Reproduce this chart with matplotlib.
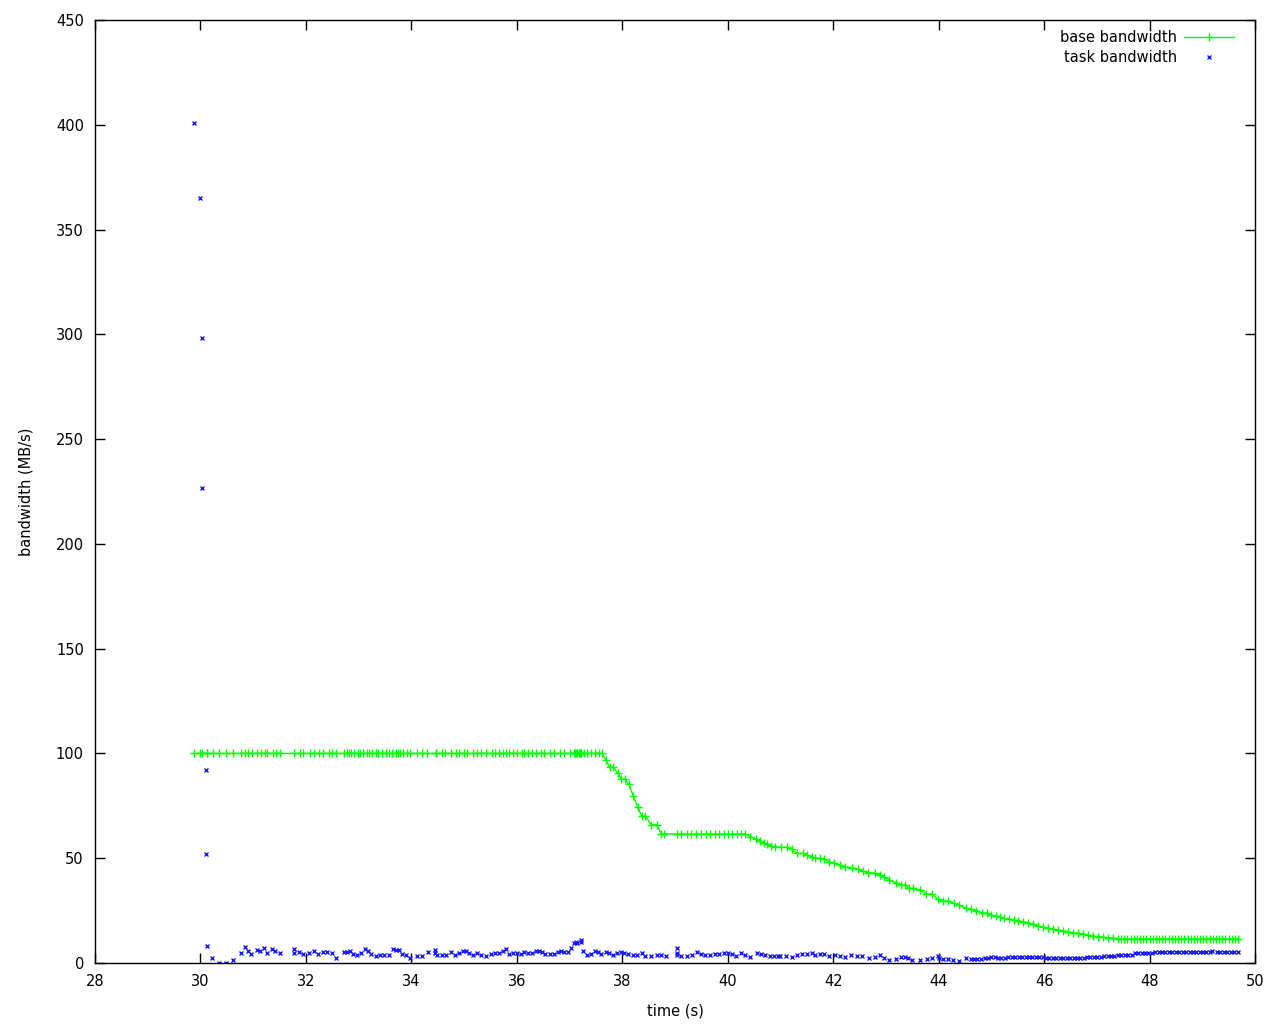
import matplotlib
matplotlib.use("Agg")
import matplotlib.pyplot as plt

plt.rcParams['font.family'] = ['DejaVu Sans']

# ---------------- data ----------------
base_t = [29.88, 30.00, 30.02, 30.12, 30.13, 30.23, 30.36, 30.49, 30.62, 30.76, 30.85, 30.91,
          30.97, 31.08, 31.14, 31.23, 31.27, 31.38, 31.44, 31.50, 31.78, 31.88, 31.95, 32.07,
          32.16, 32.24, 32.33, 32.43, 32.50, 32.58, 32.73, 32.77, 32.81, 32.86, 32.92, 32.98,
          33.03, 33.09, 33.15, 33.20, 33.26, 33.32, 33.37, 33.45, 33.51, 33.58, 33.64, 33.70,
          33.75, 33.79, 33.85, 33.91, 33.98, 34.11, 34.21, 34.30, 34.46, 34.47, 34.59, 34.64,
          34.76, 34.85, 34.91, 34.99, 35.06, 35.16, 35.25, 35.33, 35.42, 35.52, 35.59, 35.67,
          35.73, 35.80, 35.86, 35.93, 36.01, 36.09, 36.14, 36.22, 36.29, 36.37, 36.45, 36.52,
          36.62, 36.71, 36.81, 36.90, 37.00, 37.09, 37.11, 37.13, 37.15, 37.17, 37.19, 37.20,
          37.22, 37.28, 37.34, 37.41, 37.48, 37.55, 37.61,
          37.69, 37.76, 37.83, 37.91, 37.98, 38.05, 38.12, 38.21, 38.29, 38.37, 38.44, 38.55,
          38.65, 38.74, 38.80,
          39.04, 39.12, 39.23, 39.31, 39.40, 39.50, 39.58, 39.67, 39.76, 39.84, 39.93, 40.01,
          40.09, 40.17, 40.25, 40.33,
          40.43, 40.54, 40.61, 40.68, 40.75, 40.83, 40.90, 41.01, 41.12, 41.21, 41.31, 41.42,
          41.50, 41.59, 41.66, 41.75, 41.83, 41.92, 42.02, 42.12, 42.22, 42.35, 42.47, 42.56,
          42.66, 42.79, 42.89, 42.96, 43.06,
          43.19, 43.29, 43.36, 43.44, 43.51, 43.65, 43.76, 43.87, 43.99, 44.08, 44.18, 44.29,
          44.39, 44.52, 44.61, 44.71, 44.82, 44.92, 44.99, 45.09, 45.16, 45.24, 45.33, 45.43,
          45.51, 45.60, 45.70, 45.79, 45.89, 45.98, 46.07, 46.17, 46.26, 46.36, 46.45, 46.55,
          46.64, 46.74, 46.83, 46.93, 47.02, 47.12, 47.21, 47.31, 47.40,
          47.46, 47.52, 47.58, 47.64, 47.70, 47.76, 47.82, 47.88, 47.94, 48.00, 48.06, 48.12,
          48.18, 48.24, 48.30, 48.36, 48.42, 48.48, 48.54, 48.60, 48.66, 48.72, 48.78, 48.84,
          48.90, 48.96, 49.02, 49.08, 49.14, 49.20, 49.26, 49.32, 49.38, 49.44, 49.50, 49.56,
          49.62, 49.67]
base_bw = [100.0] * 103 + \
          [96.9, 93.5, 93.5, 90.7, 87.8, 87.8, 85.4, 79.7, 74.4, 70.1, 70.1, 65.9,
           65.9, 61.6, 61.6] + \
          [61.5] * 16 + \
          [60.3, 59.2, 58.4, 57.4, 56.6, 55.8, 55.5, 55.2, 55.2, 54.3, 52.3, 52.3,
           51.5, 50.7, 49.9, 49.9, 49.5, 48.4, 47.6, 46.8, 46.0, 45.5, 44.7, 43.9,
           43.1, 42.8, 42.0, 41.2, 39.6,
           38.3, 37.2, 37.2, 35.6, 35.6, 34.8, 32.9, 32.9, 30.5, 29.6, 29.6, 28.5,
           27.7, 26.1, 25.6, 25.0, 24.0, 23.7, 22.9, 22.4, 22.1, 21.3, 20.9, 20.5,
           20.2, 19.7, 19.2, 18.6, 17.7, 17.0, 16.6, 16.1, 15.7, 15.4, 14.9, 14.5,
           14.2, 13.8, 13.4, 12.9, 12.6, 12.3, 12.1, 11.9, 11.6] + \
          [11.5] * 38

task_t = [29.88, 30.00, 30.02, 30.02, 30.11, 30.11,
          30.13, 30.22, 30.36, 30.49, 30.62, 30.76, 30.85, 30.91, 30.96, 31.08, 31.13, 31.21,
          31.27, 31.36, 31.42, 31.50, 31.78, 31.78, 31.87, 31.95, 32.06, 32.16, 32.23, 32.33,
          32.40, 32.50, 32.58, 32.73, 32.78, 32.84, 32.90, 32.97, 33.05, 33.12, 33.18, 33.24,
          33.32, 33.41, 33.49, 33.58, 33.66, 33.71, 33.77, 33.83, 33.90, 33.98, 34.11, 34.20,
          34.32, 34.45, 34.45, 34.49, 34.58, 34.66, 34.76, 34.83, 34.91, 34.98, 35.04, 35.10,
          35.17, 35.25, 35.33, 35.42, 35.51, 35.59, 35.66, 35.74, 35.80, 35.86, 35.93, 36.00,
          36.07, 36.14, 36.22, 36.29, 36.37, 36.42, 36.48, 36.54, 36.63, 36.71, 36.79, 36.84,
          36.90, 36.98, 37.03, 37.09, 37.13, 37.15, 37.21, 37.22, 37.26,
          37.34, 37.41, 37.49, 37.54, 37.60, 37.70, 37.75, 37.83, 37.90, 37.98, 38.04, 38.11,
          38.21, 38.28, 38.38, 38.43, 38.55, 38.65, 38.74, 38.82, 39.04, 39.04, 39.04, 39.12,
          39.23, 39.33, 39.42, 39.50, 39.57, 39.66, 39.76, 39.83, 39.93, 40.01, 40.09, 40.16,
          40.26, 40.33, 40.43, 40.56, 40.64, 40.71, 40.81, 40.88, 40.95,
          41.00, 41.11, 41.21, 41.32, 41.41, 41.51, 41.59, 41.66, 41.75, 41.83, 41.93, 42.04,
          42.13, 42.23, 42.34, 42.45, 42.55, 42.67, 42.79, 42.89, 42.97, 43.06, 43.20, 43.29,
          43.37, 43.42, 43.50, 43.65, 43.77, 43.88, 43.99, 44.01, 44.09, 44.18, 44.28, 44.39,
          44.52,
          44.61, 44.67, 44.73, 44.80, 44.88, 44.94, 45.00, 45.06, 45.13, 45.19, 45.26,
          45.32, 45.39, 45.45, 45.52, 45.58, 45.65, 45.71, 45.78, 45.84, 45.91, 45.97,
          46.04, 46.10, 46.17, 46.23, 46.30, 46.36, 46.43, 46.49, 46.56, 46.62, 46.69, 46.75,
          46.82, 46.88, 46.95, 47.01, 47.08, 47.14, 47.21, 47.27, 47.33,
          47.40, 47.46, 47.53, 47.59, 47.66, 47.72, 47.79, 47.85, 47.92, 47.98, 48.04,
          48.11, 48.17, 48.24, 48.30, 48.37, 48.43, 48.50, 48.56, 48.63, 48.69, 48.76, 48.82,
          48.89, 48.95, 49.02, 49.08, 49.15, 49.18, 49.28, 49.34, 49.41, 49.47, 49.54, 49.60,
          49.67]
task_bw = [400.7, 364.9, 298.1, 226.5, 92.0, 51.9,
           7.9, 2.2, 0.0, 0.0, 1.3, 4.6, 7.5, 5.6, 4.1, 6.1, 5.6, 7.0,
           4.6, 6.5, 5.6, 4.6, 6.5, 4.6, 5.1, 4.1, 4.6, 5.6, 4.1, 5.1,
           5.1, 4.6, 2.2, 5.1, 5.1, 5.6, 4.1, 3.7, 4.6, 6.5, 5.6, 4.1,
           3.2, 3.7, 3.7, 3.7, 6.5, 6.1, 6.1, 4.1, 3.7, 2.2, 3.2, 3.2,
           5.1, 6.1, 4.6, 3.7, 3.7, 3.7, 5.1, 3.7, 4.6, 5.6, 5.6, 4.6,
           3.7, 4.6, 3.7, 3.2, 4.1, 4.6, 4.6, 5.6, 6.5, 4.1, 4.6, 4.6,
           4.1, 5.1, 4.6, 4.6, 5.6, 5.6, 5.1, 4.1, 4.1, 4.1, 5.1, 5.6,
           5.1, 5.1, 7.0, 9.4, 9.9, 9.4, 9.9, 10.8, 5.6,
           3.7, 4.1, 5.6, 5.1, 4.1, 5.1, 4.6, 3.7, 4.6, 5.1, 4.6, 4.1,
           3.7, 3.7, 4.6, 3.2, 3.2, 3.7, 3.7, 3.2, 7.0, 4.6, 3.7, 3.2,
           3.2, 3.7, 5.1, 4.1, 3.7, 3.7, 4.1, 4.1, 4.6, 4.6, 4.1, 3.2,
           4.6, 3.7, 2.7, 4.6, 4.1, 3.7, 3.2, 3.2, 3.2,
           3.2, 3.2, 2.7, 3.7, 4.1, 4.1, 4.6, 3.7, 4.1, 4.1, 3.2, 3.7,
           3.2, 2.7, 3.7, 3.2, 3.2, 2.2, 2.7, 3.7, 2.2, 1.3, 1.8, 2.7,
           2.7, 2.2, 1.3, 1.3, 1.8, 2.2, 3.2, 2.2, 1.8, 1.8, 1.3, 0.8,
           2.2,
           1.8, 1.8, 1.8, 1.8, 2.2, 2.2, 2.7, 2.7, 2.2, 2.2, 2.2,
           2.7, 2.7, 2.7, 2.7, 2.7, 2.7, 2.7, 2.7, 2.7, 2.7, 2.7,
           2.2, 2.2, 2.2, 2.2, 2.2, 2.2, 2.2, 2.2, 2.2, 2.2, 2.2, 2.2,
           2.7, 2.7, 2.7, 2.7, 2.7, 3.2, 3.2, 3.2, 3.2,
           3.7, 3.7, 3.7, 3.7, 3.7, 4.6, 4.6, 4.6, 4.6, 4.6, 4.6,
           5.1, 5.1, 5.1, 5.1, 5.1, 5.1, 5.1, 5.1, 5.1, 5.1, 5.1, 5.1,
           5.1, 5.1, 5.1, 5.1, 5.1, 5.6, 5.1, 5.1, 5.1, 5.1, 5.1, 5.1,
           5.1]

x_ticks = list(range(28, 51, 2))
y_ticks = list(range(0, 451, 50))

# ---------------- plot ----------------
fig = plt.figure(figsize=(12.8, 10.24), dpi=100)
ax = fig.add_axes([95 / 1280, 61 / 1024, 1160 / 1280, 943 / 1024])

ax.plot(base_t, base_bw, color='#00ff00', lw=1.0, marker='+', markersize=6,
        markeredgewidth=1.0, label='base bandwidth')
ax.plot(task_t, task_bw, linestyle='none', color='#1a1aff', marker='x',
        markersize=3.4, markeredgewidth=1.0, label='task bandwidth')

ax.set_xlim(28, 50)
ax.set_ylim(0, 450)
ax.set_xticks(x_ticks)
ax.set_yticks(y_ticks)
ax.tick_params(direction='in', length=7, width=1, top=True, right=True,
               labelsize=10.5, pad=8)
for s in ax.spines.values():
    s.set_linewidth(1.0)

ax.set_xlabel('time (s)', fontsize=10.5, labelpad=10)
ax.set_ylabel('bandwidth (MB/s)', fontsize=10.5, labelpad=16)

leg = fig.legend(loc='upper right', bbox_to_anchor=(1241 / 1280, (1024 - 23) / 1024),
                 frameon=False, markerfirst=False, fontsize=10.5, handlelength=3.4,
                 handletextpad=0.5, borderpad=0, labelspacing=0.3)

fig.savefig('out.png', dpi=100)
